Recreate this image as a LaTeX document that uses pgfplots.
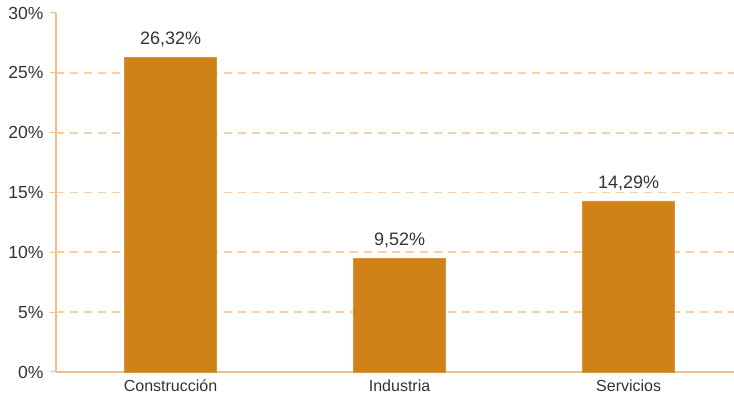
\documentclass[border=0pt]{standalone}
\usepackage{pgfplots}
\pgfplotsset{compat=1.18}
\usepackage{fontspec}
\setmainfont{Liberation Sans}
\definecolor{barc}{HTML}{CF8218}
\definecolor{axc}{HTML}{F0BE86}
\definecolor{gridc}{HTML}{F7CFA2}
\definecolor{txt}{HTML}{333333}
\begin{document}
\begin{tikzpicture}
\path[use as bounding box] (-56pt,-24pt) rectangle (678pt,372pt);
\begin{axis}[
  at={(0,0)}, anchor=south west,
  scale only axis, width=678pt, height=359pt,
  xmin=-0.5, xmax=2.46, ymin=0, ymax=30,
  ybar, bar width=92pt,
  xtick={0,1,2}, xticklabels={Construcción,Industria,Servicios},
  extra x ticks={-0.5,0.5,1.5}, extra x tick labels={},
  extra x tick style={major tick length=5pt, tick style={axc, line width=1pt}, tick pos=bottom, xtick align=outside},
  major x tick style={draw=none},
  ytick={0,5,...,30},
  yticklabel={\pgfmathprintnumber{\tick}\%},
  /pgf/number format/assume math mode=true,
  extra y ticks={5,10,...,25}, extra y tick labels={},
  extra y tick style={ymajorgrids, major tick length=0pt},
  grid style={gridc, dash pattern=on 8pt off 6pt, line width=1.8pt},
  y tick style={axc, line width=1pt}, ytick align=outside, major tick length=6pt,
  axis x line*=bottom, axis y line*=left,
  axis line style={axc, line width=1.5pt, -},
  tick label style={font=\fontsize{17.5}{20}\selectfont, text=txt},
  xticklabel style={font=\fontsize{16}{19}\selectfont, yshift=2pt},
  yticklabel style={xshift=-3pt},
  nodes near coords={\pgfmathprintnumber[fixed,fixed zerofill,precision=2,use comma]{\pgfplotspointmeta}\%},
  nodes near coords style={font=\fontsize{18}{21}\selectfont, text=txt, yshift=7pt},
  clip=false,
]
\addplot[fill=barc, draw=barc!85!white, line width=0.6pt] coordinates {(0,26.32) (1,9.52) (2,14.29)};
\end{axis}
\end{tikzpicture}
\end{document}
